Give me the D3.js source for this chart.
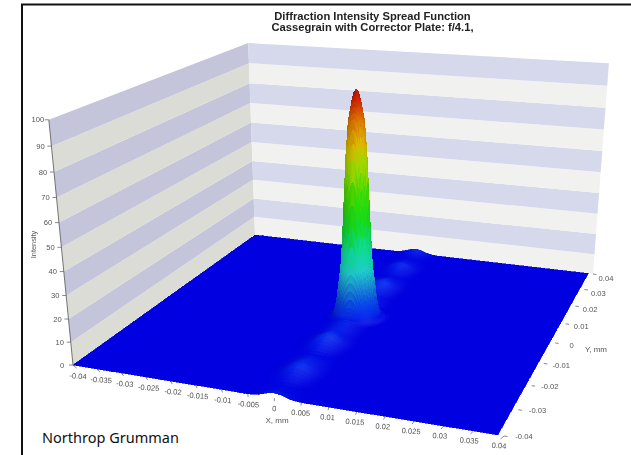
<!DOCTYPE html>
<html>
<head>
<meta charset="utf-8">
<script src="https://cdn.jsdelivr.net/npm/d3@7"></script>
<style>
  html, body { margin: 0; padding: 0; background: #fff; }
  svg { display: block; }
  text { font-family: "Liberation Sans", Arial, sans-serif; fill: #555; }
</style>
</head>
<body>
<svg id="chart" width="631" height="455"></svg>
<script>
const xTicks = [-0.04, -0.035, -0.03, -0.025, -0.02, -0.015, -0.01, -0.005, 0, 0.005, 0.01, 0.015, 0.02, 0.025, 0.03, 0.035, 0.04];
const yTicks = [-0.04, -0.03, -0.02, -0.01, 0, 0.01, 0.02, 0.03, 0.04];
const zTicks = [0, 10, 20, 30, 40, 50, 60, 70, 80, 90, 100];
const titleLines = ["Diffraction Intensity Spread Function", "Cassegrain with Corrector Plate: f/4.1,"];

// central peak: distance from centre (mm) -> intensity
const peakRadius = [0, 0.0004, 0.0008, 0.0015, 0.002, 0.0025, 0.003, 0.0035, 0.004, 0.0045, 0.005, 0.006];
const peakIntensity = [100, 99, 95.5, 87, 72, 47, 25, 16, 7, 2.5, 1, 0];
const peakCentreX = 0.0004;

// the row of side lobes along x = 0: y (mm) -> crest height
const ridgeY = [-0.04, -0.038, -0.035, -0.032, -0.0285, -0.025, -0.021, -0.018, -0.0145, -0.011, -0.0075, -0.0055, -0.004, 0,
  0.004, 0.0055, 0.0075, 0.0105, 0.0135, 0.0165, 0.02, 0.023, 0.026, 0.029, 0.032, 0.035, 0.038, 0.04];
const ridgeHeight = [2.2, 1, 0.3, 1.6, 3.6, 2.2, 0.5, 2.2, 4.4, 2.2, 2.2, 2.4, 1, 0,
  1, 2.2, 2, 1.2, 2.6, 4, 2, 0.6, 1.6, 3, 1.6, 0.5, 1, 2.4];
// how fast a lobe falls off sideways: |x| (mm) -> share of crest
const ridgeAcross = [0, 0.001, 0.002, 0.003, 0.004, 0.005];
const ridgeShare = [1, 0.85, 0.55, 0.25, 0.08, 0];

const colorValues = [0, 3, 8, 15, 22, 30, 42, 55, 66, 76, 88, 96, 100];
const colorNames = ["#0000e0", "#0828ee", "#0848e8", "#1a8ad8", "#20d0d0", "#10e0a0", "#10e020", "#40e000", "#a0e000", "#e0c000", "#e07000", "#d02000", "#a01000"];

const svg = d3.select("#chart");

// box corners on screen, floor first then wall tops
const floorCorners = [[73, 365], [504, 436], [593, 274], [255, 235]];
const topCorners = [[49, 119], [248, 42], [609, 65]];
const topAt = [[0, 0], [0, 1], [1, 1]];

const uScale = d3.scaleLinear().domain([-0.04, 0.04]).range([0, 1]);
const vScale = d3.scaleLinear().domain([-0.04, 0.04]).range([0, 1]);
const tScale = d3.scaleLinear().domain([0, 100]).range([0, 1]);

function solve(A, b) {
  const m = A.map((r, i) => [...r, b[i]]);
  const n = m.length;
  for (let i = 0; i < n; i++) {
    let p = i;
    for (let k = i + 1; k < n; k++) if (Math.abs(m[k][i]) > Math.abs(m[p][i])) p = k;
    [m[i], m[p]] = [m[p], m[i]];
    for (let k = i + 1; k < n; k++) {
      const f = m[k][i] / m[i][i];
      for (let c = i; c <= n; c++) m[k][c] -= f * m[i][c];
    }
  }
  const out = new Array(n);
  for (let i = n - 1; i >= 0; i--) {
    let s = m[i][n];
    for (let c = i + 1; c < n; c++) s -= m[i][c] * out[c];
    out[i] = s / m[i][i];
  }
  return out;
}

// floor: unit square -> quad
const [[x0, y0], [x1, y1], [x2, y2], [x3, y3]] = floorCorners;
const dx1 = x1 - x2, dx2 = x3 - x2, sx = x0 - x1 + x2 - x3;
const dy1 = y1 - y2, dy2 = y3 - y2, sy = y0 - y1 + y2 - y3;
const den = dx1 * dy2 - dx2 * dy1;
const g = (sx * dy2 - dx2 * sy) / den;
const h = (dx1 * sy - sx * dy1) / den;
const a = x1 - x0 + g * x1, b = x3 - x0 + h * x3;
const d = y1 - y0 + g * y1, e = y3 - y0 + h * y3;

// height column, least squares over the three wall tops
const rows = [], rhs = [];
topCorners.forEach((p, i) => {
  const [u, v] = topAt[i];
  const w = g * u + h * v + 1;
  rows.push([1, 0, -p[0]]); rhs.push(p[0] * w - (a * u + b * v + x0));
  rows.push([0, 1, -p[1]]); rhs.push(p[1] * w - (d * u + e * v + y0));
});
const ata = [0, 1, 2].map(i => [0, 1, 2].map(j => d3.sum(rows, r => r[i] * r[j])));
const atb = [0, 1, 2].map(i => d3.sum(rows, (r, k) => r[i] * rhs[k]));
const [cx, cy, ci] = solve(ata, atb);

function project(x, y, z) {
  const u = uScale(x), v = vScale(y), t = tScale(z);
  const w = g * u + h * v + ci * t + 1;
  return [(a * u + b * v + cx * t + x0) / w, (d * u + e * v + cy * t + y0) / w];
}

const line = d3.line().curve(d3.curveLinearClosed);
const defs = svg.append("defs");
defs.append("filter").attr("id", "soft").attr("color-interpolation-filters", "sRGB")
  .append("feGaussianBlur").attr("stdDeviation", 0.7);
defs.append("filter").attr("id", "softText").attr("color-interpolation-filters", "sRGB")
  .append("feGaussianBlur").attr("stdDeviation", 0.3);

// walls
const wallBands = d3.pairs(zTicks);
const walls = svg.append("g").attr("filter", "url(#soft)");
walls.selectAll("path.left").data(wallBands).join("path").attr("class", "left")
  .attr("d", ([lo, hi]) => line([project(-0.04, -0.04, lo), project(-0.04, 0.04, lo), project(-0.04, 0.04, hi), project(-0.04, -0.04, hi)]))
  .attr("fill", (_, i) => i % 2 ? "#c4c4da" : "#dcdcd7");
walls.selectAll("path.right").data(wallBands).join("path").attr("class", "right")
  .attr("d", ([lo, hi]) => line([project(-0.04, 0.04, lo), project(0.04, 0.04, lo), project(0.04, 0.04, hi), project(-0.04, 0.04, hi)]))
  .attr("fill", (_, i) => i % 2 ? "#d6d8ec" : "#f1f1f0");

// surface
const peak = d3.scaleLinear().domain(peakRadius).range(peakIntensity).clamp(true);
const ridge = d3.scaleLinear().domain(ridgeY).range(ridgeHeight).clamp(true);
const across = d3.scaleLinear().domain(ridgeAcross).range(ridgeShare).clamp(true);
const color = d3.scaleLinear().domain(colorValues).range(colorNames).clamp(true);

function intensity(x, y) {
  const fromPeak = peak(Math.hypot(x - peakCentreX, y));
  const fromRidge = ridge(y) * across(Math.abs(x));
  return Math.max(fromPeak, fromRidge);
}

const meshX = [...d3.range(-0.04, -0.007, 0.002), ...d3.range(-0.007, 0.007, 0.0002), ...d3.range(0.007, 0.04001, 0.002)];
const meshY = [...d3.range(-0.04, -0.007, 0.001), ...d3.range(-0.007, 0.007, 0.0002), ...d3.range(0.007, 0.04001, 0.001)];
const slopeStep = 0.001;

const cells = [];
d3.pairs(meshX).forEach(([xa, xb]) => {
  d3.pairs(meshY).forEach(([ya, yb]) => {
    const z = [intensity(xa, ya), intensity(xb, ya), intensity(xb, yb), intensity(xa, yb)];
    const mx = (xa + xb) / 2, my = (ya + yb) / 2;
    const zx = (intensity(mx + slopeStep, my) - intensity(mx - slopeStep, my)) * 2.26 / (2 * slopeStep * 5000);
    const zy = (intensity(mx, my + slopeStep) - intensity(mx, my - slopeStep)) * 2.26 / (2 * slopeStep * 5000);
    const lit = (-zx * 0.45 + zy * 0.45 + 0.77) / Math.hypot(zx, zy, 1) / 0.77;
    cells.push({
      pts: [project(xa, ya, z[0]), project(xb, ya, z[1]), project(xb, yb, z[2]), project(xa, yb, z[3])],
      mean: d3.mean(z), lit, key: my - 0.35 * mx
    });
  });
});
cells.sort((p, q) => q.key - p.key);

function shade(c) {
  const base = d3.rgb(color(c.mean));
  const f = 0.8 + 0.2 * Math.max(0, c.lit);
  if (f <= 1) return d3.rgb(base.r * f, base.g * f, base.b * f).formatRgb();
  return d3.interpolateRgb(base, "#fff")(Math.min(0.2, (f - 1) * 1.5));
}

const surface = svg.append("g").attr("filter", "url(#soft)");
surface.selectAll("path").data(cells).join("path")
  .attr("d", c => line(c.pts))
  .attr("fill", shade)
  .attr("stroke", shade)
  .attr("stroke-width", 0.6)
  .attr("shape-rendering", "crispEdges");

// axes
const axes = svg.append("g").attr("filter", "url(#softText)");
const tickColor = "#555";

const xTickDx = d3.scaleLinear().domain([-0.04, 0.04]).range([3.5, -3.5]);
const xLabelDx = d3.scaleLinear().domain([-0.04, 0.04]).range([5, -5]);
const xLabelDy = d3.scaleLinear().domain([-0.04, 0.04]).range([11, 9.5]);
xTicks.forEach(t => {
  const [px, py] = project(t, -0.04, 0);
  axes.append("line").attr("x1", px).attr("y1", py).attr("x2", px + xTickDx(t)).attr("y2", py + 3)
    .attr("stroke", tickColor).attr("stroke-width", 0.7);
  const lx = px + xLabelDx(t), ly = py + xLabelDy(t);
  axes.append("text").attr("transform", `translate(${lx},${ly}) rotate(4)`)
    .attr("text-anchor", "middle").attr("dy", "0.35em").attr("font-size", 7.6).text(String(t));
});

const yLabelDx = d3.scaleLinear().domain([-0.04, 0.04]).range([20, 13]);
const yLabelDy = d3.scaleLinear().domain([-0.04, 0.04]).range([0, 4]);
yTicks.forEach(t => {
  const [px, py] = project(0.04, t, 0);
  axes.append("line").attr("x1", px).attr("y1", py).attr("x2", px + 3.5).attr("y2", py + 0.5)
    .attr("stroke", tickColor).attr("stroke-width", 0.7);
  axes.append("text").attr("x", px + yLabelDx(t)).attr("y", py + yLabelDy(t))
    .attr("text-anchor", "middle").attr("dy", "0.35em").attr("font-size", 7.6).text(String(t));
});

axes.append("line")
  .attr("x1", project(-0.04, -0.04, 0)[0]).attr("y1", project(-0.04, -0.04, 0)[1])
  .attr("x2", project(-0.04, -0.04, 100)[0]).attr("y2", project(-0.04, -0.04, 100)[1])
  .attr("stroke", "#555").attr("stroke-width", 0.8);
zTicks.forEach(t => {
  const [px, py] = project(-0.04, -0.04, t);
  axes.append("line").attr("x1", px).attr("y1", py).attr("x2", px - 4).attr("y2", py)
    .attr("stroke", tickColor).attr("stroke-width", 0.7);
  axes.append("text").attr("x", px - 11).attr("y", py)
    .attr("text-anchor", "middle").attr("dy", "0.35em").attr("font-size", 7.6).text(t);
});

axes.append("text").attr("transform", "translate(33,244.5) rotate(-90)")
  .attr("text-anchor", "middle").attr("dy", "0.35em").attr("font-size", 7.4).text("Intensity");
axes.append("text").attr("x", 277).attr("y", 420).attr("text-anchor", "middle").attr("dy", "0.35em")
  .attr("font-size", 8).text("X, mm");
axes.append("text").attr("x", 596).attr("y", 349).attr("text-anchor", "middle").attr("dy", "0.35em")
  .attr("font-size", 8).text("Y, mm");

// title and credit
const title = svg.append("g").attr("filter", "url(#softText)");
title.selectAll("text").data(titleLines).join("text")
  .attr("x", 372.5).attr("y", (_, i) => 20 + i * 11)
  .attr("text-anchor", "middle").attr("font-size", 11.2).attr("font-weight", "bold")
  .style("fill", "#222").text(t => t);

svg.append("text").attr("x", 42).attr("y", 443)
  .attr("font-size", 14.5).style("font-family", '"Noto Sans", sans-serif').style("fill", "#111")
  .text("Northrop Grumman");

// frame
svg.append("line").attr("x1", 21).attr("y1", 4.5).attr("x2", 631).attr("y2", 4.5).attr("stroke", "#111").attr("stroke-width", 2);
svg.append("line").attr("x1", 22).attr("y1", 4).attr("x2", 22).attr("y2", 455).attr("stroke", "#111").attr("stroke-width", 2);
</script>
</body>
</html>
